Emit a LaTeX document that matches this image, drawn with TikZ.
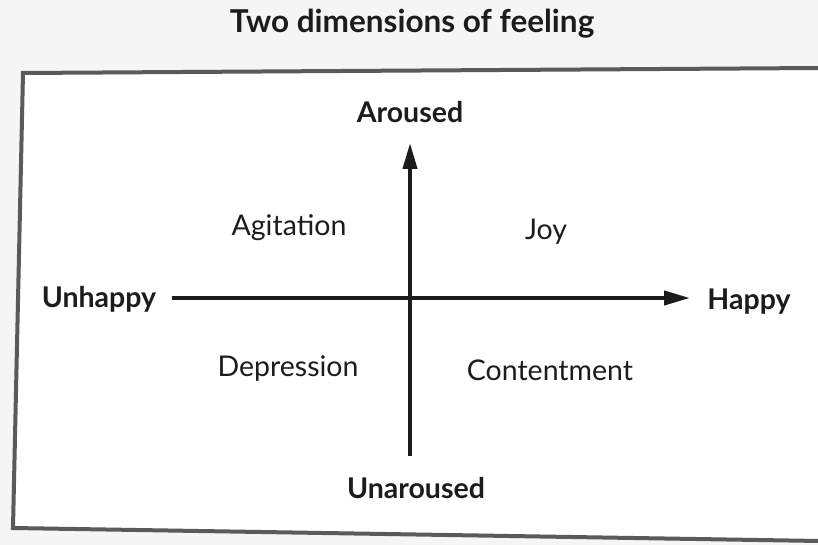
\documentclass[tikz,border=0pt]{standalone}
\usepackage{fontspec}
\setmainfont{Lato}
\usetikzlibrary{arrows.meta}
\definecolor{ink}{HTML}{1C1C1C}
\definecolor{framec}{HTML}{5A5A5A}
\definecolor{paper}{HTML}{F6F5F5}
\begin{document}
\begin{tikzpicture}[x=1pt,y=-1pt,
  boldlabel/.style={font=\bfseries\fontsize{28.5}{32}\selectfont, text=ink, inner sep=0pt},
  quadlabel/.style={font=\fontsize{28.5}{32}\selectfont, text=ink, inner sep=0pt},
  axis/.style={line width=4pt, draw=ink, -{Triangle[length=26pt,width=14pt]}}]
\useasboundingbox (0,0) rectangle (818,545);
\fill[paper] (0,0) rectangle (818,545);
\fill[white] (23,73) -- (820,68) -- (820,541) -- (13,528) -- cycle;
\draw[framec, line width=4pt, line join=miter] (820,68) -- (23,73) -- (13,528) -- (820,541);
\node[font=\bfseries\fontsize{31.5}{35}\selectfont, text=ink, inner sep=0pt] (title) at (412,24) {Two dimensions of feeling};
\coordinate (vbot) at (410,456);
\coordinate (vtop) at (410,143);
\coordinate (hleft) at (172,298);
\coordinate (hright) at (690,298);
\draw[axis] (vbot) -- (vtop);
\draw[axis] (hleft) -- (hright);
\node[boldlabel] (aroused) at (410,112) {Aroused};
\node[boldlabel] (unaroused) at (416,488) {Unaroused};
\node[boldlabel] (unhappy) at (99,299) {Unhappy};
\node[boldlabel] (happy) at (749,302) {Happy};
\node[quadlabel] (agitation) at (289,228) {Agitation};
\node[quadlabel] (joy) at (546,232) {Joy};
\node[quadlabel] (depression) at (288,369) {Depression};
\node[quadlabel] (contentment) at (550,370) {Contentment};
\end{tikzpicture}
\end{document}
